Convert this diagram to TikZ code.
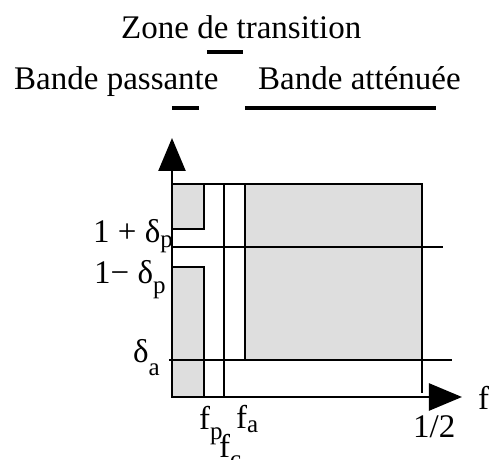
\documentclass[tikz,border=0pt]{standalone}
\usepackage{fontspec}
\setmainfont{Liberation Serif}
\usetikzlibrary{arrows.meta, positioning}

% lowered index of a label
\newcommand{\ind}[2]{\raisebox{-#1}{\fontsize{12.5}{12.5}\selectfont #2}}

\begin{document}
\begin{tikzpicture}[
    x=0.5pt, y=-0.5pt, line width=1.2pt,
    font=\fontsize{16.5}{18}\selectfont,
    zone/.style={draw, fill=black!13},
    bar/.style={line width=1.6pt},
    axis/.style={-{Triangle[length=16.5pt, width=13.5pt]}},
    lbl/.style={anchor=base west, inner sep=0pt}]
    \useasboundingbox (0,0) rectangle (489,460);

    % Define points
    \coordinate (O) at (172,397);
    \coordinate (Ytip) at (172,138);
    \coordinate (Xtip) at (462,397);
    \coordinate (fp) at (204,397);
    \coordinate (fc) at (224,397);
    \coordinate (fa) at (245,360);
    \coordinate (fh) at (422,393);

    % Draw tolerance zones
    \draw[zone] (172,184) rectangle (204,229);
    \draw[zone] (172,267) rectangle (fp);
    \draw[zone] (245,184) rectangle (422,360);
    \draw (172,184) -- (245,184);
    \draw (fc) -- (224,184);
    \draw (fa) -- (245,184);
    \draw (422,360) -- (fh);
    \draw (172,247) -- (443,247);
    \draw (169,360) -- (452,360);

    % Draw axes
    \draw[axis] (O) -- (Xtip);
    \draw[axis] (O) -- (Ytip);

    % Band names
    \node[lbl] (zone) at (120,39) {Zone de transition};
    \node[lbl] (passante) at (13,90) {Bande passante};
    \node[lbl] (attenuee) at (257,90) {Bande atténuée};
    \draw[bar] (207,52) -- (243,52);
    \draw[bar] (172,108) -- (199,108);
    \draw[bar] (245,108) -- (436,108);

    % Axis labels
    \node[lbl] (dp1) at (92,243) {1 + δ\ind{2.5pt}{p}};
    \node[lbl] (dp2) at (93,284) {1− δ\ind{5pt}{p}};
    \node[lbl] (da) at (132,363) {δ\ind{6.5pt}{a}};
    \node[lbl] (lfp) at (198,430) {f\ind{5pt}{p}};
    \node[lbl] (lfc) at (218,458) {f\ind{5pt}{c}};
    \node[lbl] (lfa) at (235,429) {f\ind{2pt}{a}};
    \node[lbl] (demi) at (412,438) {1/2};
    \node[lbl] (f) at (477,410) {f};

\end{tikzpicture}
\end{document}
